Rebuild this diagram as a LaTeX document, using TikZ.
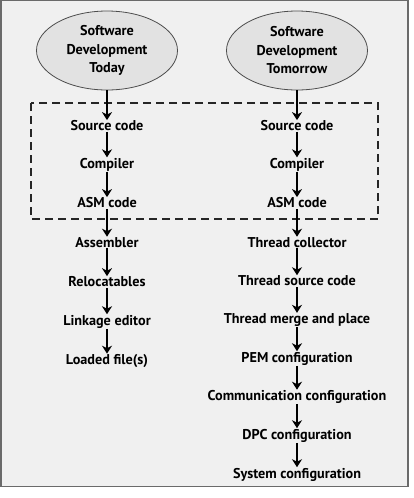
\documentclass[tikz,border=0pt]{standalone}
\usepackage{fontspec}
\setmainfont{PT Sans}[BoldFont={PT Sans Bold}]
\usetikzlibrary{arrows.meta,shapes.geometric}
\definecolor{bgc}{HTML}{F0F0F0}
\definecolor{ellc}{HTML}{E2E2E2}
\definecolor{framec}{HTML}{6A6A6A}
\tikzset{
  lbl/.style={font=\bfseries\fontsize{14.2}{16}\selectfont, inner sep=0.5pt, text=black},
  ell/.style={ellipse, draw=black!70, fill=ellc, line width=0.8pt, minimum width=141pt, minimum height=79pt, align=center, font=\bfseries\fontsize{14.2}{18.5}\selectfont, inner sep=0pt, text=black},
  arr/.style={-{Stealth[length=8pt,width=10pt,inset=2.5pt]}, line width=1.5pt, black},
}
\begin{document}
\begin{tikzpicture}[x=1pt,y=-1pt]
\useasboundingbox (0,0) rectangle (414,498);
\fill[white] (0,0) rectangle (414,498);
\draw[framec, fill=bgc, line width=1.2pt] (1,0.6) rectangle (408,486.5);
\node[ell] (e1) at (107,50.5) {Software\\Development\\Today};
\node[ell] (e2) at (297,50.5) {Software\\Development\\Tomorrow};
\draw[dashed, line width=1.2pt, dash pattern=on 8pt off 5pt, black!85] (31,103) rectangle (378,219);
% left column
\node[lbl] (l1) at (107,126) {Source code};
\node[lbl] (l2) at (107,164.5) {Compiler};
\node[lbl] (l3) at (107,203) {ASM code};
\node[lbl] (l4) at (107,242.5) {Assembler};
\node[lbl] (l5) at (107,282) {Relocatables};
\node[lbl] (l6) at (107,321.5) {Linkage editor};
\node[lbl] (l7) at (107,361) {Loaded file(s)};
% right column
\node[lbl] (r1) at (297,126) {Source code};
\node[lbl] (r2) at (297,164.5) {Compiler};
\node[lbl] (r3) at (297,203) {ASM code};
\node[lbl] (r4) at (297,242.5) {Thread collector};
\node[lbl] (r5) at (297,281) {Thread source code};
\node[lbl] (r6) at (297,320) {Thread merge and place};
\node[lbl] (r7) at (297,358.5) {PEM configuration};
\node[lbl] (r8) at (297,397) {Communication configuration};
\node[lbl] (r9) at (297,435.5) {DPC configuration};
\node[lbl] (r10) at (297,474.5) {System configuration};
\draw[arr] (e1.south) -- (l1);
\draw[arr] (e2.south) -- (r1);
\foreach \a/\b in {l1/l2,l2/l3,l3/l4,l4/l5,l5/l6,l6/l7,r1/r2,r2/r3,r3/r4,r4/r5,r5/r6,r6/r7,r7/r8,r8/r9,r9/r10}
  \draw[arr] (\a) -- (\b);
\end{tikzpicture}
\end{document}
